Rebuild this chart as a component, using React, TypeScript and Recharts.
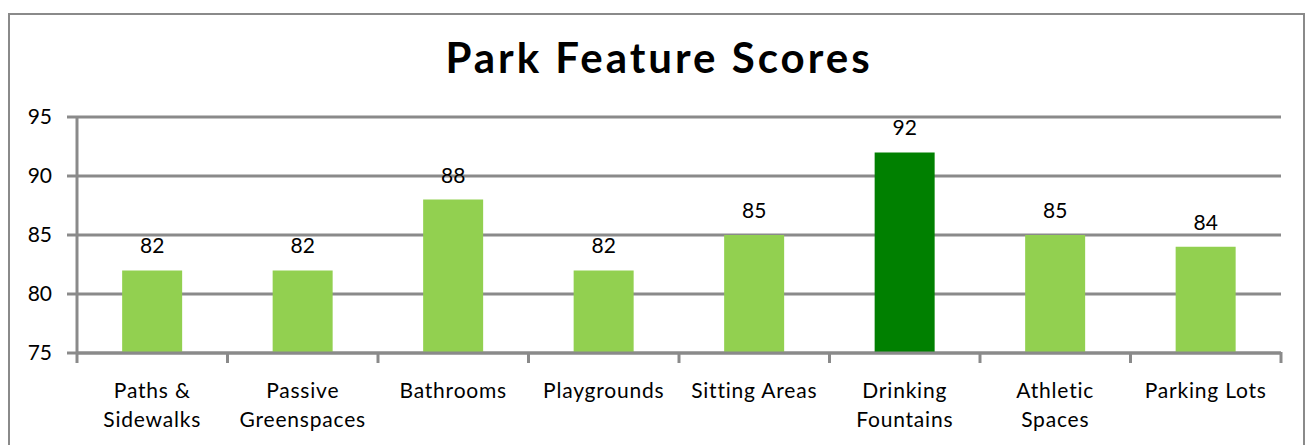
import React from 'react';
import { BarChart, Bar, XAxis, YAxis, CartesianGrid, Cell, LabelList } from 'recharts';

const categories = [
  'Paths &\nSidewalks',
  'Passive\nGreenspaces',
  'Bathrooms',
  'Playgrounds',
  'Sitting Areas',
  'Drinking\nFountains',
  'Athletic\nSpaces',
  'Parking Lots',
];
const scores = [82, 82, 88, 82, 85, 92, 85, 84];
const highlighted = [false, false, false, false, false, true, false, false];
const yTicks = [75, 80, 85, 90, 95];
const title = 'Park Feature Scores';

const FONT = 'Lato, "Noto Sans", sans-serif';
const GRID = '#8a8a8a';
const LIGHT = '#92D050';
const DARK = '#008000';

const data = categories.map((name, i) => ({ name, score: scores[i], hl: highlighted[i] }));

const CatTick = (props: any) => {
  const { x, y, payload, index, visibleTicksCount, width } = props;
  const lines = String(payload.value).split('\n');
  const half =
    payload && typeof payload.offset === 'number' && payload.offset > 0
      ? payload.offset
      : width / visibleTicksCount / 2;
  const isLast = index === visibleTicksCount - 1;
  return (
    <g>
      <line x1={x - half} x2={x - half} y1={y - 1} y2={y + 10} stroke={GRID} strokeWidth={3} />
      {isLast && <line x1={x + half} x2={x + half} y1={y - 1} y2={y + 10} stroke={GRID} strokeWidth={3} />}
      <text x={x} y={y} textAnchor="middle" fill="#000" fontSize={21} letterSpacing={0.8} fontFamily={FONT}>
        {lines.map((l, i) => (
          <tspan key={i} x={x} dy={i === 0 ? 45 : 29}>
            {l}
          </tspan>
        ))}
      </text>
    </g>
  );
};

export default function App() {
  return (
    <div style={{ position: 'absolute', left: 0, top: 0, width: 1309, height: 445, overflow: 'hidden', background: '#fff' }}>
      <div
        style={{
          position: 'absolute',
          left: 8,
          top: 13,
          width: 1297,
          height: 460,
          border: `2px solid ${GRID}`,
          boxSizing: 'border-box',
        }}
      />
      <svg width={1309} height={100} style={{ position: 'absolute', left: 0, top: 0 }}>
        <text x={659} y={73} textAnchor="middle" fontSize={42} letterSpacing={3} fontWeight="bold" fontFamily={FONT} fill="#000">
          {title}
        </text>
      </svg>
      <div style={{ position: 'absolute', left: 0, top: 0 }}>
        <BarChart
          width={1309}
          height={445}
          data={data}
          margin={{ top: 117, right: 28, left: 0, bottom: 91 }}
          barCategoryGap="30%"
        >
          <CartesianGrid horizontal vertical={false} stroke={GRID} strokeWidth={3} />
          <XAxis
            dataKey="name"
            type="category"
            interval={0}
            tickLine={false}
            axisLine={{ stroke: GRID, strokeWidth: 3 }}
            tickSize={0}
            tickMargin={0}
            tick={<CatTick />}
            height={1}
          />
          <YAxis
            type="number"
            domain={[75, 95]}
            ticks={yTicks}
            interval={0}
            allowDataOverflow
            width={77}
            tickSize={10}
            tickMargin={15}
            tick={{ fontSize: 21, fill: '#000', fontFamily: FONT }}
            tickLine={{ stroke: GRID, strokeWidth: 3 }}
            axisLine={{ stroke: GRID, strokeWidth: 3 }}
          />
          <Bar dataKey="score" isAnimationActive={false}>
            {data.map((d, i) => (
              <Cell key={i} fill={d.hl ? DARK : LIGHT} />
            ))}
            <LabelList dataKey="score" position="top" offset={17} fill="#000" fontSize={21} fontFamily={FONT} />
          </Bar>
        </BarChart>
      </div>
    </div>
  );
}
